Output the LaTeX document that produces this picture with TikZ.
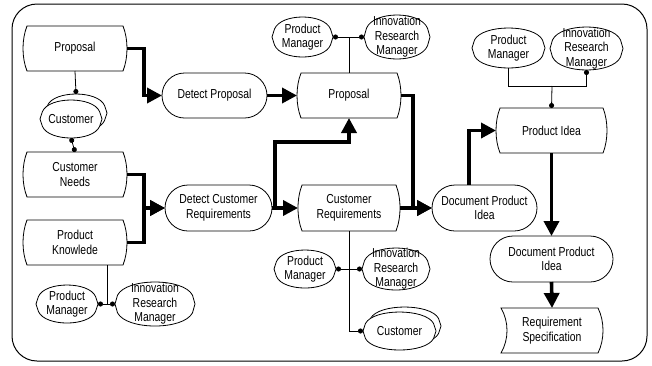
\documentclass[tikz,border=0pt]{standalone}
\usepackage{fontspec}
\setmainfont{Liberation Sans}[FakeStretch=0.8]
\usetikzlibrary{arrows.meta,shapes.misc,calc}
\tikzset{
  shp/.style={draw=black, line width=0.8pt},
  box/.style={rectangle, inner sep=0pt, outer sep=0pt, draw=none},
  txt/.style={align=center, inner sep=0pt, font=\fontsize{13}{14.5}\selectfont},
  func/.style={rounded rectangle, draw=black, line width=0.8pt, inner sep=0pt, outer sep=0pt,
    align=center, fill=white, font=\fontsize{13}{14.5}\selectfont},
  flow/.style={line width=3.6pt, line join=miter, -{Triangle[length=15pt,width=15pt]}},
  assoc/.style={line width=0.8pt},
  dotend/.style={-{Circle[length=5pt]}},
  dotboth/.style={{Circle[length=5pt]}-{Circle[length=5pt]}},
  frame/.style={draw=black, line width=1pt, rounded corners=25pt}
}
% role / group shape: name, x0, y0, x1, y1, text, fill
\newcommand\roleshape[7]{%
  \pgfmathsetmacro\zza{#2}\pgfmathsetmacro\zzb{#3}%
  \pgfmathsetmacro\zzc{#4}\pgfmathsetmacro\zzd{#5}%
  \pgfmathsetmacro\zzw{\zzc-\zza}\pgfmathsetmacro\zzh{\zzd-\zzb}%
  \pgfmathsetmacro\zzx{(\zza+\zzc)/2}\pgfmathsetmacro\zzy{(\zzb+\zzd)/2}%
  \pgfmathsetmacro\zzL{\zza+2.5}\pgfmathsetmacro\zzR{\zzc-2.5}%
  \pgfmathsetmacro\zzT{\zzb+0.3*\zzh}\pgfmathsetmacro\zzB{\zzd-0.3*\zzh}%
  \pgfmathsetmacro\zzct{(\zzb-0.25*\zzT)/0.75}\pgfmathsetmacro\zzcb{(\zzd-0.25*\zzB)/0.75}%
  \pgfmathsetmacro\zzk{0.12*(\zzR-\zzL)}%
  \pgfmathsetmacro\zzLk{\zzL+\zzk}\pgfmathsetmacro\zzRk{\zzR-\zzk}%
  \node[box, minimum width=\zzw pt, minimum height=\zzh pt] (#1) at (\zzx,\zzy) {};
  \draw[shp, fill=#7] (\zza,\zzy) -- (\zzL,\zzT) .. controls (\zzLk,\zzct) and (\zzRk,\zzct) .. (\zzR,\zzT)
     -- (\zzc,\zzy) -- (\zzR,\zzB) .. controls (\zzRk,\zzcb) and (\zzLk,\zzcb) .. (\zzL,\zzB) -- cycle;
  \node[txt] (#1-t) at (#1) {#6};
}
% information shape: name, x0, y0, x1, y1, text, left inset, left bulge (outward +), right inset=bulge
\newcommand\infoshape[9]{%
  \pgfmathsetmacro\zza{#2}\pgfmathsetmacro\zzb{#3}%
  \pgfmathsetmacro\zzc{#4}\pgfmathsetmacro\zzd{#5}%
  \pgfmathsetmacro\zzw{\zzc-\zza}\pgfmathsetmacro\zzh{\zzd-\zzb}%
  \pgfmathsetmacro\zzx{(\zza+\zzc)/2}\pgfmathsetmacro\zzy{(\zzb+\zzd)/2}%
  \pgfmathsetmacro\zzL{\zza+#7}\pgfmathsetmacro\zzR{\zzc-#9}%
  \pgfmathsetmacro\zzLc{\zzL-(#8)/0.75}\pgfmathsetmacro\zzRc{\zzR+(#9)/0.75}%
  \pgfmathsetmacro\zzT{\zzb+0.3*\zzh}\pgfmathsetmacro\zzB{\zzd-0.3*\zzh}%
  \node[box, minimum width=\zzw pt, minimum height=\zzh pt] (#1) at (\zzx,\zzy) {};
  \draw[shp, fill=white] (\zzL,\zzb) -- (\zzR,\zzb) .. controls (\zzRc,\zzT) and (\zzRc,\zzB) .. (\zzR,\zzd)
     -- (\zzL,\zzd) .. controls (\zzLc,\zzB) and (\zzLc,\zzT) .. (\zzL,\zzb) -- cycle;
  \node[txt] (#1-t) at (#1) {#6};
}
\begin{document}
\begin{tikzpicture}[x=1pt,y=-1pt]
\useasboundingbox (0,0) rectangle (652,365);
\draw[frame] (12,4) rectangle (647,361);

% left column
\infoshape{prop1}{23}{26}{127}{71}{Proposal}{4}{4}{4}
\roleshape{c1b}{45}{94}{107}{132}{}{white}
\roleshape{c1}{40}{100}{102}{138}{Customer}{white}
\infoshape{cn}{23}{152}{127}{197}{Customer\\Needs}{4}{4}{4}
\infoshape{pk}{23}{220}{127}{265}{Product\\Knowlede}{4}{4}{4}
\roleshape{pm1}{36}{285}{98}{323}{Product\\Manager}{white}
\roleshape{irm1}{115}{282}{195}{326}{Innovation\\Research\\Manager}{white}

% functions
\node[func, minimum width=105pt, minimum height=45pt] (dp) at (214.5,95.5) {Detect Proposal};
\node[func, minimum width=107pt, minimum height=46pt] (dcr) at (218.5,208) {Detect Customer\\Requirements};
\node[func, minimum width=105pt, minimum height=46pt] (dpi1) at (484.5,208) {Document Product\\Idea};
\node[func, minimum width=123pt, minimum height=46pt] (dpi2) at (551.5,259) {Document Product\\Idea};

% middle
\roleshape{pm2}{272}{17}{333}{57}{Product\\Manager}{white}
\roleshape{irm2}{364}{15}{430}{59}{Innovation\\Research\\Manager}{white}
\infoshape{prop2}{297}{73}{401}{118}{Proposal}{4}{4}{4}
\infoshape{cr}{298}{185}{400}{231}{Customer\\Requirements}{4}{4}{4}
\roleshape{pm3}{274}{250}{336}{288}{Product\\Manager}{white}
\roleshape{irm3}{362}{248}{430}{290}{Innovation\\Research\\Manager}{white}
\roleshape{c2b}{368}{307}{441}{345}{}{white}
\roleshape{c2}{363}{312}{436}{350}{Customer}{white}

% right
\roleshape{pm4}{472}{28}{545}{68}{Product\\Manager}{white}
\roleshape{irm4}{550}{27}{623}{70}{Innovation\\Research\\Manager}{white}
\infoshape{pi}{496}{108}{607}{153}{Product Idea}{4}{4}{4}
\infoshape{rs}{501}{308}{603}{353}{Requirement\\Specification}{0}{-6}{5}

% junction coordinates
\coordinate (k1) at (144,95.5);
\coordinate (k2) at (144,208);
\coordinate (k6) at (275,142);
\coordinate (k7) at (413,208);
\coordinate (k9) at (469,130.5);
\coordinate (j1) at (107,304);
\coordinate (j2) at (349,37);
\coordinate (j4) at (552,86);

% thick flows
\draw[flow] (prop1.east) -| (k1) -- (dp.west);
\draw[flow] (cn.east) -| (k2) -- (dcr.west);
\draw[flow] (pk.east) -| (k2) -- (dcr.west);
\draw[flow] (dp.east) -- (prop2.west);
\draw[flow] (dcr.east) -- (cr.west);
\draw[flow] (dcr.east) -| (k6) -| (prop2.south);
\draw[flow] (prop2.east) -| (k7) -- (dpi1.west);
\draw[flow] (cr.east) -- (dpi1.west);
\draw[flow] (dpi1.north -| k9) -- (k9) -- (pi.west);
\draw[flow] (pi.south) -- (dpi2.north);
\draw[flow] (dpi2.south) -- (rs.north);

% associations
\draw[assoc, dotend] (prop1.south) -- (c1b.north);
\draw[assoc, dotboth] (c1.south) -- (cn.north);
\draw[assoc] (pk.south -| j1) -- (j1);
\draw[assoc, dotboth] (pm1.east |- j1) -- (irm1.west |- j1);
\draw[assoc, dotboth] (pm2.east) -- (irm2.west);
\draw[assoc] (j2) -- (prop2.north);
\draw[assoc] (cr.south) -- (cr.south |- c2.west);
\draw[assoc, dotend] (cr.south |- c2.west) -- (c2.west);
\draw[assoc, dotboth] (pm3.east) -- (irm3.west);
\draw[assoc] (pm4.south) |- (j4);
\draw[assoc, dotend] (j4) -| (irm4.south);
\draw[assoc, dotend] (j4) -- (pi.north);
\end{tikzpicture}
\end{document}
